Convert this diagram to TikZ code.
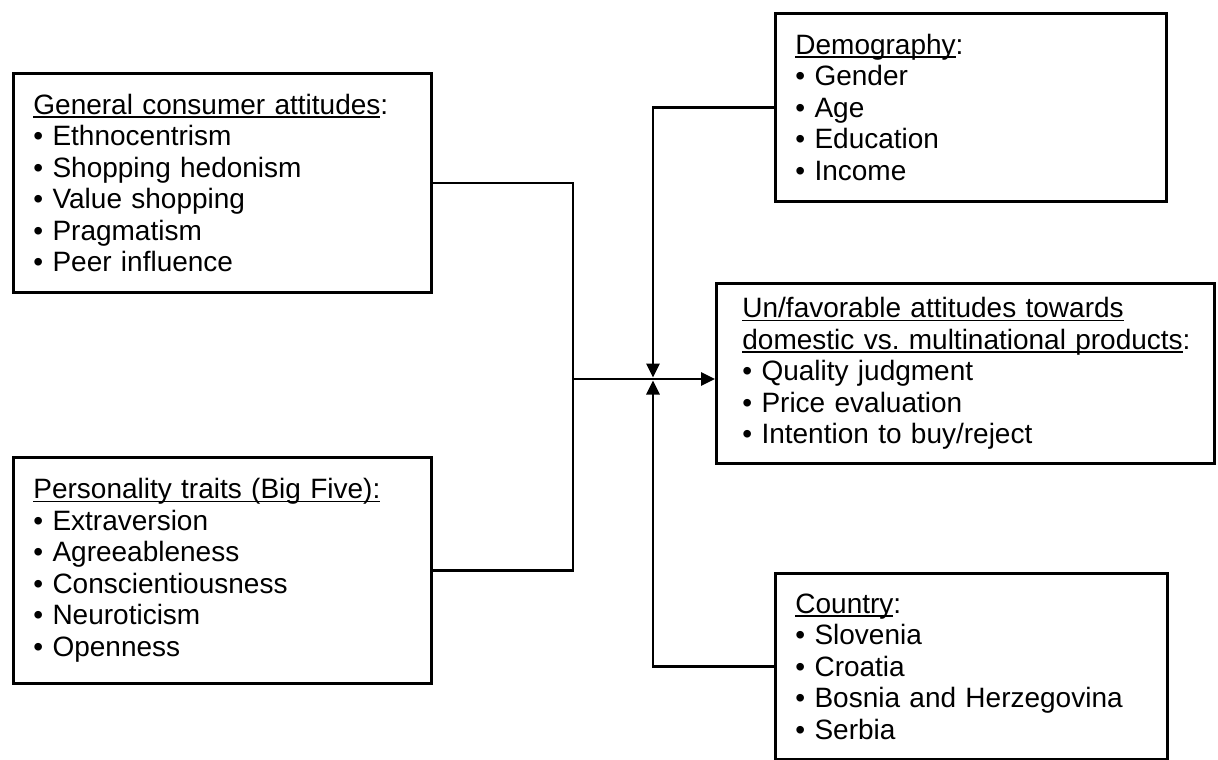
\documentclass[tikz,border=0pt]{standalone}
\usepackage{fontspec}
\setmainfont{Liberation Sans}
\usetikzlibrary{arrows.meta}

\newcommand{\hdr}[1]{\leavevmode\setbox0\hbox{#1}\rlap{\rule[-3.5pt]{\wd0}{1.6pt}}\box0}
\newcommand{\itm}[1]{\textbullet\ #1}

\tikzset{
  box/.style={draw, line width=2.8pt, align=left, anchor=north west,
    inner xsep=20pt, inner ysep=0pt, font=\fontsize{28}{31.5}\selectfont},
  link/.style={line width=2.8pt},
  tip/.style={link, -{Triangle[length=14pt,width=13pt]}}
}

\begin{document}
\begin{tikzpicture}[x=1pt, y=-1pt]
  \useasboundingbox (0,0) rectangle (1218,760);

  \node[box, text width=378pt, minimum height=219pt] (att) at (12,72)
    {\hdr{General consumer attitudes}:\\ \itm{Ethnocentrism}\\ \itm{Shopping hedonism}\\
     \itm{Value shopping}\\ \itm{Pragmatism}\\ \itm{Peer influence}};
  \node[box, text width=378pt, minimum height=226pt] (pers) at (12,456)
    {\hdr{Personality traits (Big Five):}\\ \itm{Extraversion}\\ \itm{Agreeableness}\\
     \itm{Conscientiousness}\\ \itm{Neuroticism}\\ \itm{Openness}};
  \node[box, text width=351pt, minimum height=188pt] (demo) at (774,12)
    {\hdr{Demography}:\\ \itm{Gender}\\ \itm{Age}\\ \itm{Education}\\ \itm{Income}};
  \node[box, text width=446pt, inner xsep=26pt, minimum height=180pt] (out) at (715,282)
    {\hdr{Un/favorable attitudes towards}\\ \hdr{domestic vs.\ multinational products}:\\
     \itm{Quality judgment}\\ \itm{Price evaluation}\\ \itm{Intention to buy/reject}};
  \node[box, text width=352pt, minimum height=186pt] (country) at (774,572)
    {\hdr{Country}:\\ \itm{Slovenia}\\ \itm{Croatia}\\ \itm{Bosnia and Herzegovina}\\ \itm{Serbia}};

  \coordinate (j) at (573,379);
  \coordinate (k) at (653,379);
  \foreach \n in {att, pers}
    \draw[link] (\n.east) -| (j);
  \draw[tip] (j) -- (j -| out.west);
  \draw[tip] (demo.west) -| ([yshift=1.5pt]k);
  \draw[tip] (country.west) -| ([yshift=-1.5pt]k);
\end{tikzpicture}
\end{document}
